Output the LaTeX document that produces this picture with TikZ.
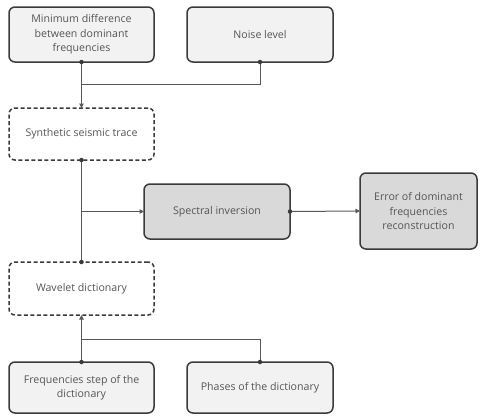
\documentclass[tikz,border=0pt]{standalone}
\usepackage{fontspec}
\setmainfont{Open Sans}
\usetikzlibrary{arrows.meta}
\definecolor{lightfill}{HTML}{F2F2F2}
\definecolor{darkfill}{HTML}{D9D9D9}
\definecolor{bordercol}{HTML}{3A3A3A}
\definecolor{linecol}{HTML}{595959}
\definecolor{textcol}{HTML}{555555}
\tikzset{
  box/.style={draw=bordercol, line width=1.5pt, rounded corners=6pt, inner sep=0pt, outer sep=0pt,
    align=center, text=textcol, font=\fontsize{10.6}{14.5}\selectfont},
  lightbox/.style={box, fill=lightfill},
  darkbox/.style={box, fill=darkfill},
  dashbox/.style={box, fill=white, dashed, dash pattern=on 4pt off 2.5pt},
  conn/.style={draw=linecol, line width=1pt},
  arr/.style={conn, -{Triangle[length=4.5pt,width=4.5pt]}},
  jdot/.style={fill=bordercol, circle, inner sep=0pt, minimum size=4.5pt}
}
\begin{document}
\begin{tikzpicture}[x=1pt,y=-1pt]
\useasboundingbox (0,0) rectangle (480,416);
\node[lightbox, minimum width=145pt, minimum height=55pt] (A) at (81.5,34.5) {Minimum difference\\between dominant\\frequencies};
\node[lightbox, minimum width=146pt, minimum height=55pt] (B) at (260,34.5) {Noise level};
\node[dashbox, minimum width=145pt, minimum height=52pt] (C) at (81.5,134) {Synthetic seismic trace};
\node[darkbox, minimum width=146pt, minimum height=55pt] (D) at (217,211.5) {Spectral inversion};
\node[darkbox, minimum width=117pt, minimum height=76pt] (E) at (418.5,211) {Error of dominant\\frequencies\\reconstruction};
\node[dashbox, minimum width=145pt, minimum height=53pt] (F) at (81.5,288.5) {Wavelet dictionary};
\node[lightbox, minimum width=145pt, minimum height=51pt] (G) at (81.5,387.5) {Frequencies step of the\\dictionary};
\node[lightbox, minimum width=146pt, minimum height=51pt] (H) at (260,387.5) {Phases of the dictionary};

\coordinate (j1) at (81.5,84);
\coordinate (j2) at (C.south |- D.west);
\coordinate (j3) at (81.5,339);

\draw[arr] (A.south) -- (j1) -- (C.north);
\draw[conn] (B.south) |- (j1);
\draw[conn] (C.south) -- (F.north);
\draw[arr] (j2) -- (D.west);
\draw[arr] (D.east) -- (E.west);
\draw[arr] (G.north) -- (j3) -- (F.south);
\draw[conn] (H.north) |- (j3);

\foreach \p in {A.south,B.south,C.south,F.north,D.east,G.north,H.north}
  \node[jdot] at (\p) {};
\end{tikzpicture}
\end{document}
